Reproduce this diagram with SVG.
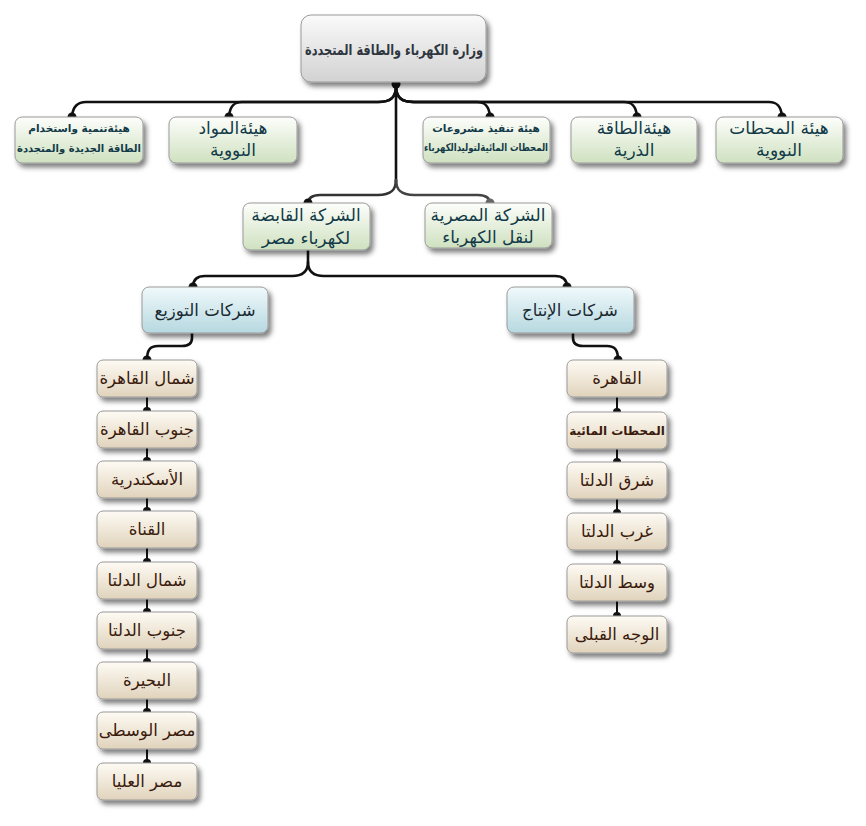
<svg xmlns="http://www.w3.org/2000/svg" width="866" height="826" viewBox="0 0 866 826">
<defs>
<linearGradient id="gGrey" x1="0" y1="0" x2="0" y2="1"><stop offset="0" stop-color="#fafafa"/><stop offset="1" stop-color="#d2d2d2"/></linearGradient>
<linearGradient id="gGreen" x1="0" y1="0" x2="0" y2="1"><stop offset="0" stop-color="#fdfefb"/><stop offset="1" stop-color="#cfe1c0"/></linearGradient>
<linearGradient id="gBlue" x1="0" y1="0" x2="0" y2="1"><stop offset="0" stop-color="#f0f9fb"/><stop offset="1" stop-color="#b6d8e0"/></linearGradient>
<linearGradient id="gBeige" x1="0" y1="0" x2="0" y2="1"><stop offset="0" stop-color="#fefbf4"/><stop offset="1" stop-color="#e0d3bc"/></linearGradient>
<filter id="sh" x="-20%" y="-20%" width="150%" height="160%"><feDropShadow dx="3" dy="4" stdDeviation="2.5" flood-color="#000" flood-opacity="0.5"/></filter>
</defs>
<style>
.ln{fill:none;stroke:#111;stroke-width:2.6;stroke-linecap:round}
.lc{fill:none;stroke:#111;stroke-width:2}
.dot{fill:#111}
.box{stroke:#9a9a9a;stroke-width:1;filter:url(#sh)}
.grey{fill:url(#gGrey)}
.green{fill:url(#gGreen)}
.blue{fill:url(#gBlue)}
.beige{fill:url(#gBeige)}
text{font-family:"DejaVu Sans",sans-serif;text-anchor:middle}
.t0{font-size:15px;font-weight:bold;fill:#2e3640}
.tg{font-size:17px;fill:#123a48}
.ts{font-size:10.5px;font-weight:bold;fill:#123a48}
.th{font-size:16.5px;fill:#1a2830}
.tb{font-size:16.5px;fill:#3a1a0c}
</style>
<g id="connectors">
<path class="ln" d="M396,82 V185"/>
<path class="ln" d="M396,86 C396,98 390,102 378,102 H86 C78,102 73,106 72,116"/>
<path class="ln" d="M396,86 C396,98 390,102 378,102 H242 C234,102 230,106 229,116"/>
<path class="ln" d="M396,86 C396,98 402,102 414,102 H477 C485,102 489,106 490,116"/>
<path class="ln" d="M396,86 C396,98 402,102 414,102 H624 C632,102 636,106 637,116"/>
<path class="ln" d="M396,86 C396,98 402,102 414,102 H769 C777,102 781,106 782,116"/>
<circle class="dot" cx="396" cy="84" r="4.5"/>
<circle class="dot" cx="72" cy="117" r="4.5"/>
<circle class="dot" cx="229" cy="117" r="4.5"/>
<circle class="dot" cx="490" cy="117" r="4.5"/>
<circle class="dot" cx="637" cy="117" r="4.5"/>
<circle class="dot" cx="782" cy="117" r="4.5"/>
<path class="ln" d="M396,180 C396,191 390,195 378,195 H320 C312,195 308,198 308,204" style="stroke:#333"/>
<path class="ln" d="M396,180 C396,191 402,195 414,195 H478 C486,195 490,198 490,204" style="stroke:#444"/>
<circle class="dot" cx="308" cy="203" r="4.5"/>
<circle cx="490" cy="203" r="4.5" fill="#666"/>
<path class="ln" d="M308,250 V262 C308,272 302,276 292,276 H205 C197,276 193,280 193,287"/>
<path class="ln" d="M308,262 C308,272 314,276 324,276 H555 C563,276 567,280 567,287"/>
<circle class="dot" cx="193" cy="287" r="4.5"/>
<circle class="dot" cx="567" cy="287" r="4.5"/>
<path class="ln" d="M192,333 V338 C192,344 188,346 182,346 H158 C150,346 147,350 147,360"/>
<path class="ln" d="M573,333 V338 C573,344 577,346 583,346 H607 C615,346 618,350 618,360"/>
<circle class="dot" cx="147" cy="360" r="4.5"/>
<circle class="dot" cx="618" cy="360" r="4.5"/>
<path class="lc" d="M147,397 V411 M147,448 V461 M147,498 V511 M147,548 V562 M147,599 V612 M147,649 V662 M147,699 V712 M147,749 V763"/>
<circle class="dot" cx="147" cy="411" r="4"/><circle class="dot" cx="147" cy="461" r="4"/><circle class="dot" cx="147" cy="511" r="4"/><circle class="dot" cx="147" cy="562" r="4"/><circle class="dot" cx="147" cy="612" r="4"/><circle class="dot" cx="147" cy="662" r="4"/><circle class="dot" cx="147" cy="712" r="4"/><circle class="dot" cx="147" cy="763" r="4"/>
<path class="lc" d="M617,397 V412 M617,449 V462 M617,499 V513 M617,550 V564 M617,601 V616"/>
<circle class="dot" cx="617" cy="412" r="4"/><circle class="dot" cx="617" cy="462" r="4"/><circle class="dot" cx="617" cy="513" r="4"/><circle class="dot" cx="617" cy="564" r="4"/><circle class="dot" cx="617" cy="616" r="4"/>
</g>
<g id="ministry"><rect class="box grey" x="301" y="15" width="185" height="67" rx="10"/><text class="t0" x="394" y="55" textLength="178" lengthAdjust="spacingAndGlyphs">وزارة الكهرباء والطاقة المتجددة</text></g>
<g id="renewable"><rect class="box green" x="15" y="117" width="128" height="46" rx="7"/><text class="ts" x="79" y="132">هيئةتنمية واستخدام</text><text class="ts" x="79" y="152" textLength="124" lengthAdjust="spacingAndGlyphs">الطاقة الجديدة والمتجددة</text></g>
<g id="nuclear-materials"><rect class="box green" x="169" y="117" width="128" height="46" rx="7"/><text class="tg" x="233" y="134">هيئةالمواد</text><text class="tg" x="233" y="156">النووية</text></g>
<g id="hydro"><rect class="box green" x="423" y="117" width="127" height="46" rx="7"/><text class="ts" x="486" y="132">هيئة تنفيذ مشروعات</text><text class="ts" x="486" y="151" textLength="124" lengthAdjust="spacingAndGlyphs">المحطات المائيةلتوليدالكهرباء</text></g>
<g id="atomic"><rect class="box green" x="571" y="117" width="126" height="46" rx="7"/><text class="tg" x="634" y="134">هيئةالطاقة</text><text class="tg" x="634" y="156">الذرية</text></g>
<g id="nuclear-plants"><rect class="box green" x="716" y="117" width="127" height="46" rx="7"/><text class="tg" x="779" y="134">هيئة المحطات</text><text class="tg" x="779" y="156">النووية</text></g>
<g id="holding"><rect class="box green" x="243" y="203" width="127" height="47" rx="7"/><text class="tg" x="306" y="221">الشركة القابضة</text><text class="tg" x="306" y="244">لكهرباء مصر</text></g>
<g id="transmission"><rect class="box green" x="425" y="203" width="127" height="45" rx="7"/><text class="tg" x="488" y="221">الشركة المصرية</text><text class="tg" x="488" y="243">لنقل الكهرباء</text></g>
<g id="distribution"><rect class="box blue" x="142" y="287" width="126" height="46" rx="7"/><text class="th" x="205" y="316">شركات التوزيع</text></g>
<g id="production"><rect class="box blue" x="507" y="287" width="127" height="46" rx="7"/><text class="th" x="570" y="316">شركات الإنتاج</text></g>
<g id="d1"><rect class="box beige" x="97" y="360" width="100" height="37" rx="6"/><text class="tb" x="147" y="384">شمال القاهرة</text></g>
<g id="d2"><rect class="box beige" x="97" y="411" width="100" height="37" rx="6"/><text class="tb" x="147" y="435">جنوب القاهرة</text></g>
<g id="d3"><rect class="box beige" x="97" y="461" width="100" height="37" rx="6"/><text class="tb" x="147" y="485">الأسكندرية</text></g>
<g id="d4"><rect class="box beige" x="97" y="511" width="100" height="37" rx="6"/><text class="tb" x="147" y="535">القناة</text></g>
<g id="d5"><rect class="box beige" x="97" y="562" width="100" height="37" rx="6"/><text class="tb" x="147" y="586">شمال الدلتا</text></g>
<g id="d6"><rect class="box beige" x="97" y="612" width="100" height="37" rx="6"/><text class="tb" x="147" y="636">جنوب الدلتا</text></g>
<g id="d7"><rect class="box beige" x="97" y="662" width="100" height="37" rx="6"/><text class="tb" x="147" y="686">البحيرة</text></g>
<g id="d8"><rect class="box beige" x="97" y="712" width="100" height="37" rx="6"/><text class="tb" x="147" y="736">مصر الوسطى</text></g>
<g id="d9"><rect class="box beige" x="97" y="763" width="100" height="37" rx="6"/><text class="tb" x="147" y="787">مصر العليا</text></g>
<g id="p1"><rect class="box beige" x="567" y="360" width="100" height="37" rx="6"/><text class="tb" x="617" y="384">القاهرة</text></g>
<g id="p2"><rect class="box beige" x="567" y="412" width="100" height="37" rx="6"/><text class="tb" x="617" y="435" style="font-size:12px;font-weight:bold">المحطات المائية</text></g>
<g id="p3"><rect class="box beige" x="567" y="462" width="100" height="37" rx="6"/><text class="tb" x="617" y="486">شرق الدلتا</text></g>
<g id="p4"><rect class="box beige" x="567" y="513" width="100" height="37" rx="6"/><text class="tb" x="617" y="537">غرب الدلتا</text></g>
<g id="p5"><rect class="box beige" x="567" y="564" width="100" height="37" rx="6"/><text class="tb" x="617" y="588">وسط الدلتا</text></g>
<g id="p6"><rect class="box beige" x="567" y="616" width="100" height="37" rx="6"/><text class="tb" x="617" y="640">الوجه القبلى</text></g>
</svg>
